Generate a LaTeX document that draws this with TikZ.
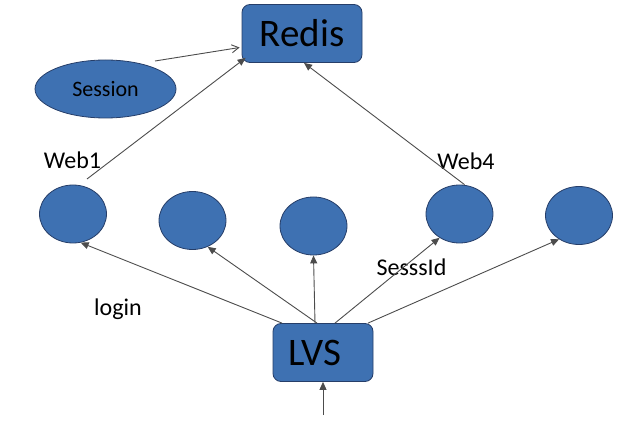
\documentclass[tikz,border=0pt]{standalone}
\usepackage{fontspec}
\setmainfont{Carlito}
\usetikzlibrary{shapes.geometric,arrows.meta}
\definecolor{boxblue}{RGB}{62,113,178}
\definecolor{boxedge}{RGB}{38,62,105}

\begin{document}
\begin{tikzpicture}[x=1pt, y=-1pt]
        \tikzstyle{every node}=[inner sep=0pt]
        \tikzstyle{server}=[fill=boxblue, draw=boxedge, line width=0.8pt, rounded corners=8pt, minimum height=58pt, font=\fontsize{39}{40}\selectfont]
        \tikzstyle{web}=[ellipse, fill=boxblue, draw=boxedge, line width=0.8pt, minimum width=67pt, minimum height=58pt]
        \tikzstyle{tag}=[anchor=base, font=\fontsize{24}{26}\selectfont]
        \tikzstyle{link}=[draw=black!70, line width=0.9pt, -{Triangle[length=8pt,width=7pt]}]

        \useasboundingbox (0,0) rectangle (630,425);

% Redis on top, five web servers in the middle, LVS at the bottom.

        \node[server, minimum width=120pt] (redis) at (302,33.5) {Redis};
        \node[web, minimum width=141pt, font=\fontsize{22}{24}\selectfont] (session) at (105.5,89) {Session};
        \node[web] (w1) at (73,214) {};
        \node[web] (w2) at (192.5,220.5) {};
        \node[web] (w3) at (313.5,226) {};
        \node[web] (w4) at (459.5,214) {};
        \node[web] (w5) at (579,215.5) {};
        \node[server, text width=70pt, inner xsep=15pt, align=left] (lvs) at (323,352.5) {LVS};

        \node[tag] (web1) at (72.5,169) {Web1};
        \node[tag] (web4) at (466,170) {Web4};
        \node[tag] (login) at (118,316) {login};
        \node[tag] (sessid) at (411.5,276) {SesssId};

        \coordinate (sesstail) at (155,61);
        \coordinate (w1tail) at (87,179);
        \coordinate (client) at (323,415);

        \draw[draw=black!70, line width=0.9pt, -{Straight Barb[length=7pt,width=8pt]}] (sesstail) -- ([xshift=-2pt,yshift=-14pt]redis.west);
        \draw[link] (w1tail) -- ([xshift=4pt,yshift=5pt]redis.south west);
        \draw[link] ([xshift=5pt]w4.north) -- ([xshift=2pt]redis.south);

        \draw[link] ([xshift=-41pt]lvs.north) -- (w1.-75);
        \draw[link] ([xshift=-6pt]lvs.north) -- (w2.-60);
        \draw[link] ([xshift=-8pt]lvs.north) -- (w3.south);
        \draw[link] ([xshift=12pt]lvs.north) -- (w4.-130);
        \draw[link] ([xshift=45pt]lvs.north) -- (w5.-130);
        \draw[link] (client) -- (lvs.south);

    \end{tikzpicture}
\end{document}
